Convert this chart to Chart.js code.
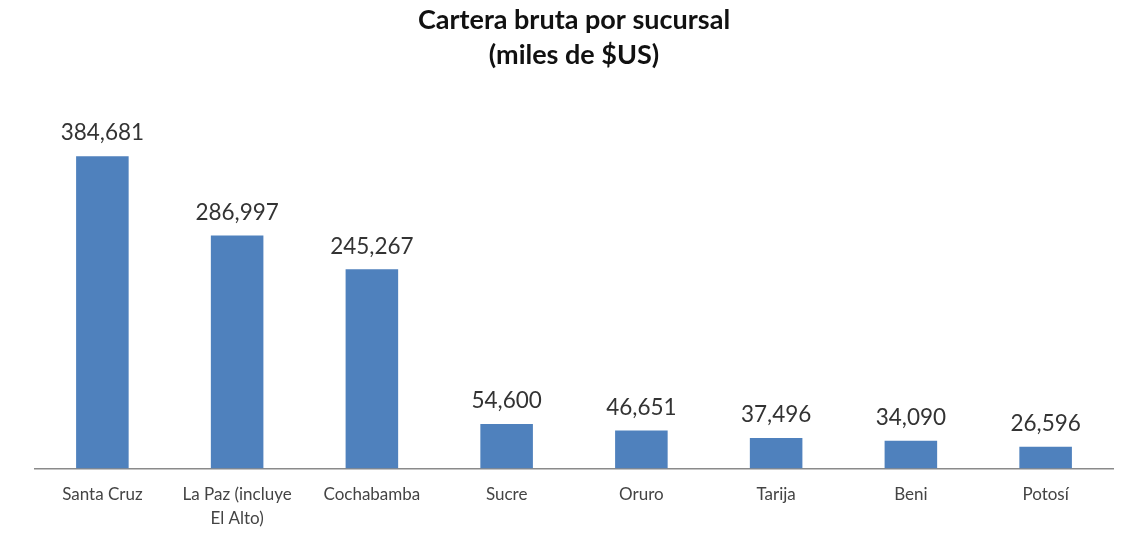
<!DOCTYPE html>
<html>
<head>
<meta charset="utf-8">
<script src="https://cdn.jsdelivr.net/npm/chart.js@4/dist/chart.umd.min.js"></script>
<style>
  html, body { margin: 0; padding: 0; background: #fff; }
  #wrap { width: 1133px; height: 543px; }
</style>
</head>
<body>
<div id="wrap"><canvas id="chart" width="1133" height="543"></canvas></div>
<script>
const sucursales = ['Santa Cruz', ['La Paz (incluye', 'El Alto)'], 'Cochabamba', 'Sucre', 'Oruro', 'Tarija', 'Beni', 'Potosí'];
const cartera = [384681, 286997, 245267, 54600, 46651, 37496, 34090, 26596];
const tituloLineas = ['Cartera bruta por sucursal', '(miles de $US)'];

// etiquetas de valor encima de cada barra
const valueLabels = {
  id: 'valueLabels',
  afterDatasetsDraw(chart) {
    const ctx = chart.ctx;
    const meta = chart.getDatasetMeta(0);
    ctx.save();
    ctx.font = '22.5px Lato, "Open Sans", sans-serif';
    ctx.fillStyle = '#333';
    ctx.textAlign = 'center';
    ctx.textBaseline = 'middle';
    meta.data.forEach((bar, i) => {
      ctx.fillText(cartera[i].toLocaleString('en-US'), bar.x, bar.y - 23);
    });
    ctx.restore();
  }
};

new Chart(document.getElementById('chart'), {
  type: 'bar',
  data: {
    labels: sucursales,
    datasets: [{
      data: cartera,
      backgroundColor: '#4F81BD',
      categoryPercentage: 1,
      barPercentage: 0.39
    }]
  },
  options: {
    responsive: false,
    animation: false,
    layout: { padding: { left: 35, right: 20, top: 0, bottom: 7 } },
    plugins: {
      legend: { display: false },
      tooltip: { enabled: false },
      title: {
        display: true,
        text: tituloLineas,
        color: '#111',
        font: { family: 'Lato, "Open Sans", sans-serif', size: 27, weight: 'bold', lineHeight: 1.3 },
        padding: { top: 3, bottom: 31 }
      }
    },
    scales: {
      x: {
        grid: { display: false },
        border: { display: true, color: '#8a8a8a', width: 1.5 },
        ticks: {
          color: '#444',
          font: { family: 'Lato, "Open Sans", sans-serif', size: 17, lineHeight: 1.4 },
          padding: 6,
          maxRotation: 0,
          autoSkip: false
        }
      },
      y: {
        display: false,
        min: 0,
        max: 448800
      }
    }
  },
  plugins: [valueLabels]
});
</script>
</body>
</html>
